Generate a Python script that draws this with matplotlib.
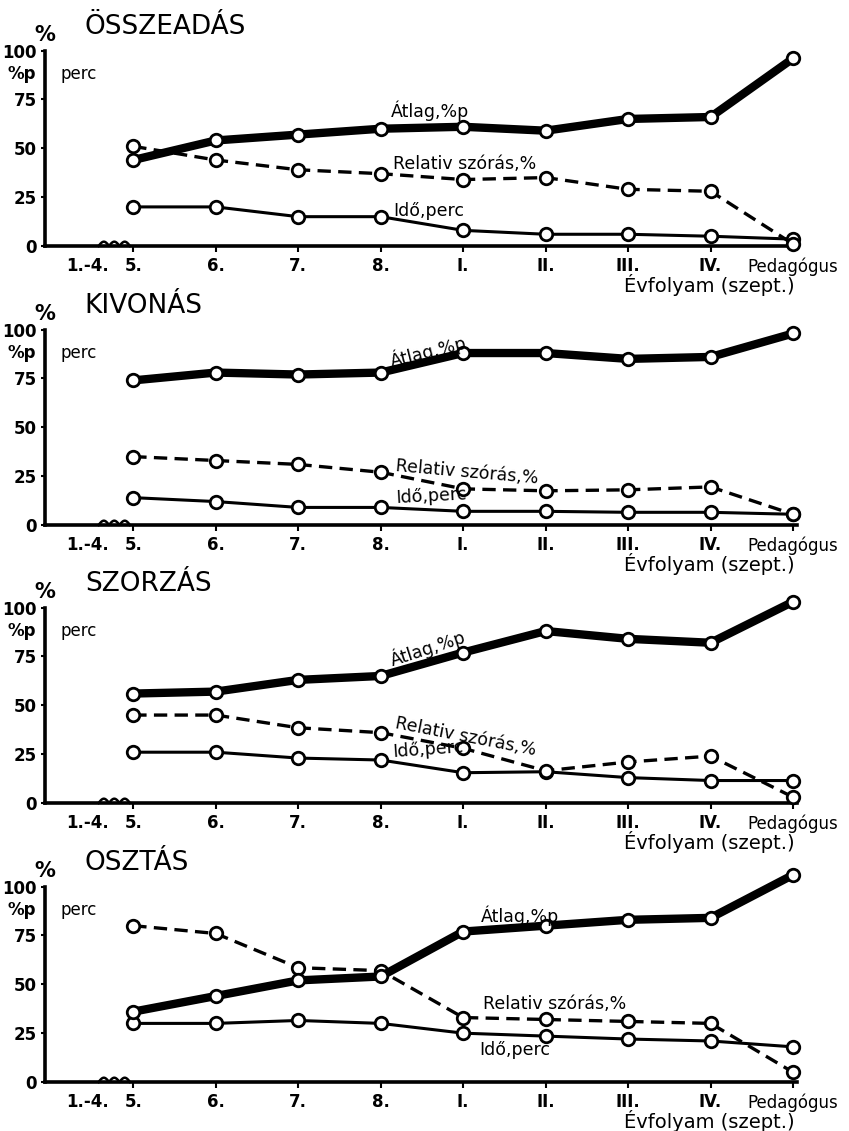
import numpy as np
import matplotlib
matplotlib.use("Agg")
import matplotlib.pyplot as plt

plt.rcParams['font.family'] = ['DejaVu Sans']

categories = ['5.', '6.', '7.', '8.', 'I.', 'II.', 'III.', 'IV.', 'Pedagógus']
titles = ['ÖSSZEADÁS', 'KIVONÁS', 'SZORZÁS', 'OSZTÁS']

atlag_ossz = [44, 54, 57, 60, 61, 59, 65, 66, 96]
szoras_ossz = [51, 44, 39, 37, 34, 35, 29, 28, 1]
ido_ossz = [20, 20, 15, 15, 8, 6, 6, 5, 3.5]

atlag_kiv = [74, 78, 77, 78, 88, 88, 85, 86, 98]
szoras_kiv = [35, 33, 31, 27, 18.5, 17.5, 18, 19.5, 5.5]
ido_kiv = [14, 12, 9, 9, 7, 7, 6.5, 6.5, 5.5]

atlag_szor = [56, 57, 63, 65, 77, 88, 84, 82, 103]
szoras_szor = [45, 45, 38.5, 36, 28, 16.5, 21, 24, 3]
ido_szor = [26, 26, 23, 22, 15.5, 16, 13, 11.5, 11.5]

atlag_oszt = [36, 44, 52, 54, 77, 80, 83, 84, 106]
szoras_oszt = [80, 76, 58.5, 57, 33, 32, 31, 30, 5]
ido_oszt = [30, 30, 31.5, 30, 25, 23.5, 22, 21, 18]

panels = [
    (atlag_ossz, szoras_ossz, ido_ossz),
    (atlag_kiv, szoras_kiv, ido_kiv),
    (atlag_szor, szoras_szor, ido_szor),
    (atlag_oszt, szoras_oszt, ido_oszt),
]

# label placement per panel: (x, y, rotation) for Átlag, Relativ szórás, Idő
label_pos = [
    [(3.12, 69, 0), (3.15, 42, 0), (3.15, 18, 0)],
    [(3.12, 84, 14), (3.18, 30, -5), (3.18, 14, 3)],
    [(3.12, 73, 18), (3.18, 41, -11), (3.15, 26, 4)],
    [(4.22, 85, 0), (4.24, 40, 0), (4.2, 16.5, 0)],
]

bottoms = [0.7825, 0.5358, 0.290, 0.0433]
height = 0.1728

fig = plt.figure(figsize=(8.49, 11.31), dpi=100)
x = np.arange(len(categories))

for k in range(4):
    ax = fig.add_axes([0.053, bottoms[k], 0.886, height])
    atlag, szoras, ido = panels[k]
    mk = dict(marker='o', markersize=9, markerfacecolor='white',
              markeredgecolor='black', markeredgewidth=2, clip_on=False)
    ax.plot(x, ido, color='black', lw=2.2, zorder=3, **mk)
    ax.plot(x, szoras, color='black', lw=2.4, ls=(0, (4, 2.2)), zorder=3, **mk)
    ax.plot(x, atlag, color='black', lw=6, zorder=4, **mk)

    ax.set_xlim(-1.07, 8.05)
    ax.set_ylim(0, 100)
    for s in ['top', 'right']:
        ax.spines[s].set_visible(False)
    for s in ['left', 'bottom']:
        ax.spines[s].set_linewidth(2.6)

    ax.set_yticks([0, 25, 50, 75, 100])
    ax.set_yticklabels(['0', '25', '50', '75', '100'], fontsize=12, fontweight='bold')
    ax.tick_params(axis='y', length=3, width=1.5, pad=3)

    ax.set_xticks([-0.55] + list(x))
    ax.set_xticklabels(['1.-4.'] + categories, fontsize=12)
    for t in ax.get_xticklabels():
        if t.get_text() != 'Pedagógus':
            t.set_fontweight('bold')
    ax.tick_params(axis='x', length=4, width=1.5, pad=4)
    ax.xaxis.get_major_ticks()[0].tick1line.set_visible(False)

    # axis break mark
    bx = np.linspace(-0.42, -0.04, 80)
    by = 2.2 * np.abs(np.sin((bx + 0.42) / 0.38 * 3 * np.pi))
    ax.plot(bx, by, color='black', lw=1.8, clip_on=False, zorder=5)

    ax.text(0.053, 1.12, titles[k], transform=ax.transAxes, fontsize=19,
            ha='left', va='center')
    ax.text(0.0, 1.08, '%', transform=ax.transAxes, fontsize=15,
            fontweight='bold', ha='center', va='center')
    ax.text(-0.012, 88, '%p', transform=ax.get_yaxis_transform(), fontsize=12,
            fontweight='bold', ha='right', va='center')
    ax.text(-0.88, 88, 'perc', fontsize=12, ha='left', va='center')
    ax.text(0.997, -0.2, 'Évfolyam (szept.)', transform=ax.transAxes,
            fontsize=14, ha='right', va='center')

    names = ['Átlag,%p', 'Relativ szórás,%', 'Idő,perc']
    for (lx, ly, rot), name in zip(label_pos[k], names):
        ax.text(lx, ly, name, fontsize=12.5, ha='left', va='center',
                rotation=rot, rotation_mode='anchor', zorder=6)

fig.savefig('out.png', dpi=100)
